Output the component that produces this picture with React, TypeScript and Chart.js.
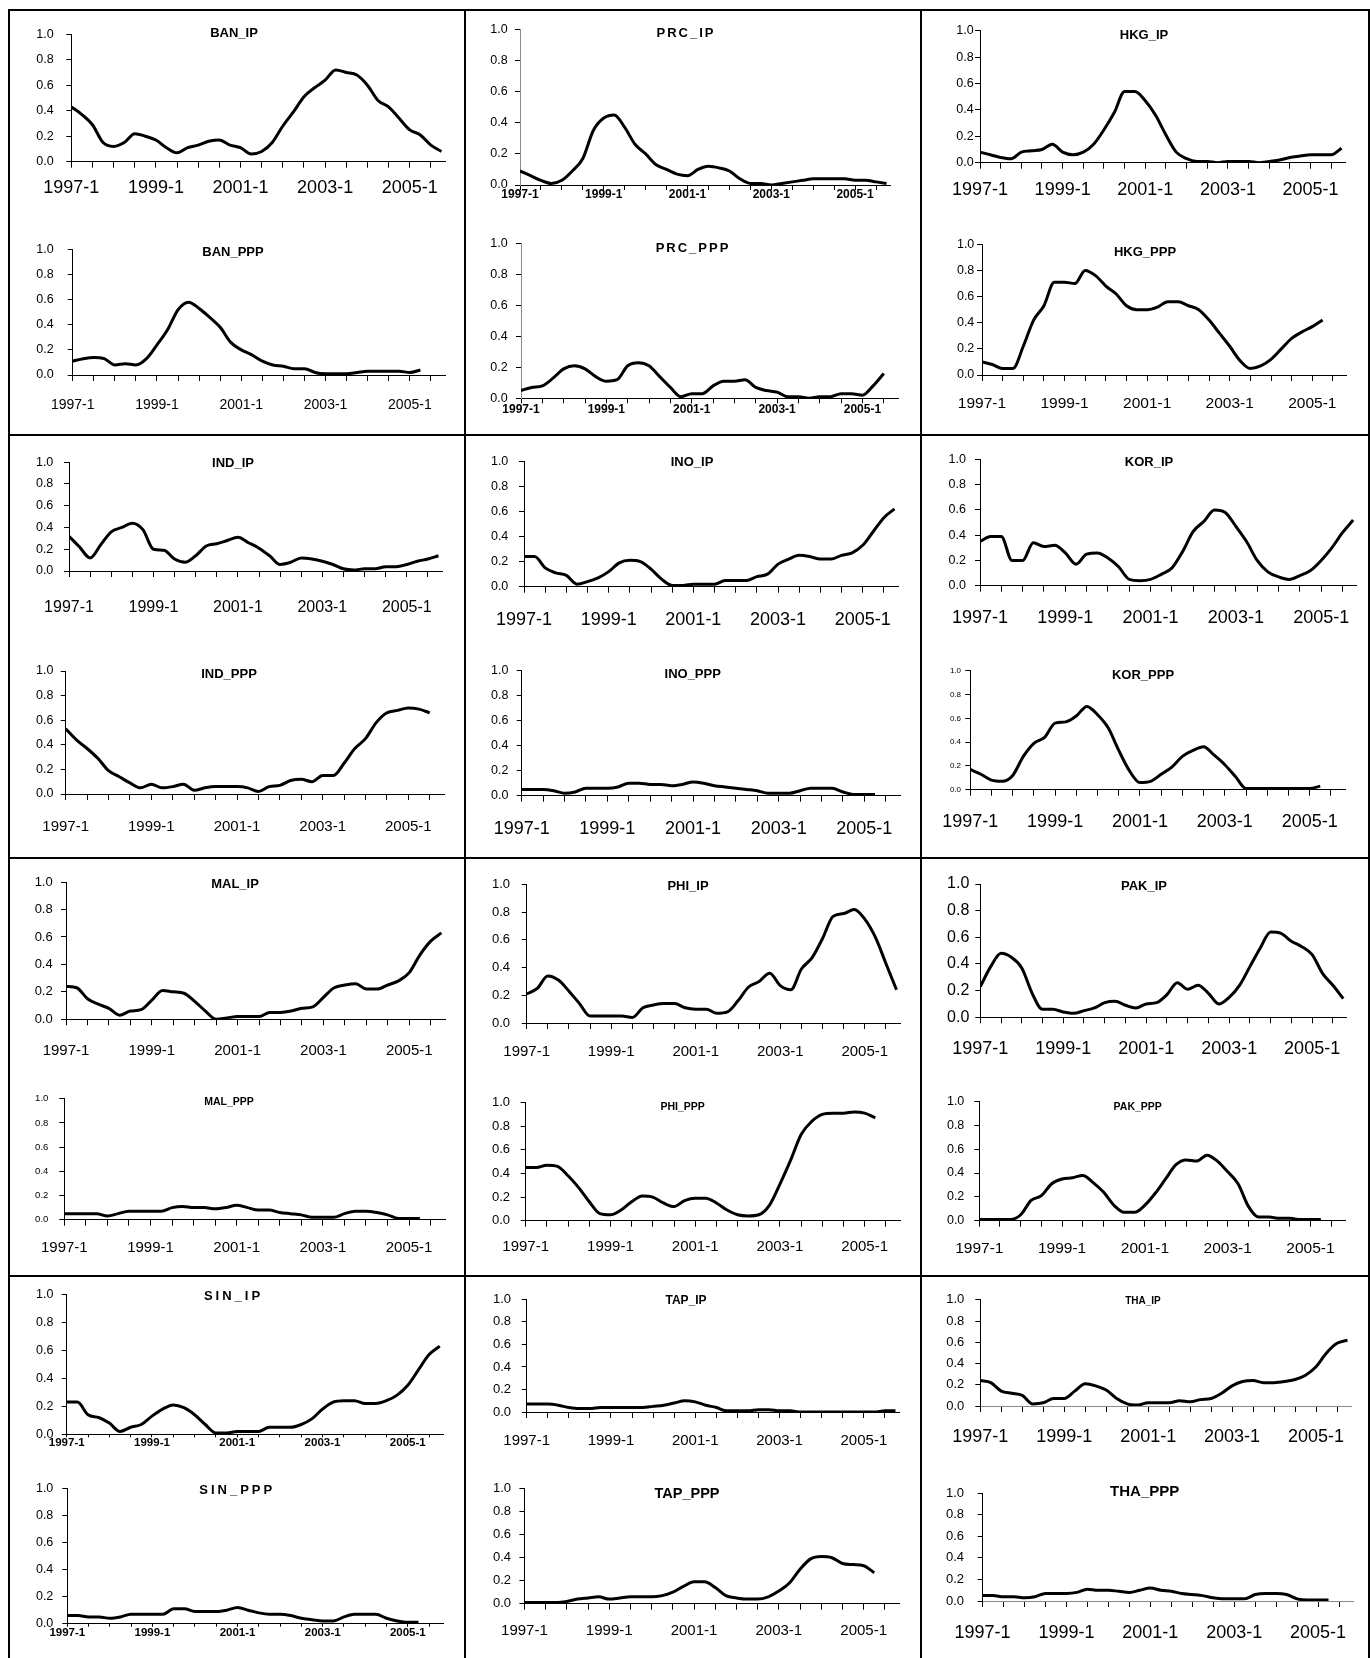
import React, { useEffect, useRef } from 'react';
import { Chart, registerables } from 'chart.js';

Chart.register(...registerables);

// ---------- shared axis definitions ----------
const MONTH_STEP = 3; // one value read every 3 months, starting 1997-1
const X_MAX = 106; // months shown on each x-axis
const X_TICK_STEP = 6; // tick mark every 6 months
const X_LABEL_MONTHS = [0, 24, 48, 72, 96];
const X_LABELS = ['1997-1', '1999-1', '2001-1', '2003-1', '2005-1'];
const Y_MIN = 0;
const Y_MAX = 1;
const Y_STEP = 0.2;

// ---------- series values (quarterly readings) ----------
const BAN_IP = [0.43, 0.37, 0.29, 0.15, 0.12, 0.15, 0.22, 0.20, 0.17, 0.11, 0.07, 0.11, 0.13, 0.16, 0.17, 0.13, 0.11, 0.06, 0.08, 0.15, 0.28, 0.39, 0.51, 0.58, 0.64, 0.72, 0.70, 0.68, 0.60, 0.48, 0.43, 0.34, 0.25, 0.21, 0.13, 0.08];
const BAN_PPP = [0.11, 0.13, 0.14, 0.13, 0.08, 0.09, 0.08, 0.13, 0.24, 0.36, 0.52, 0.58, 0.53, 0.46, 0.38, 0.26, 0.20, 0.16, 0.11, 0.08, 0.07, 0.05, 0.05, 0.02, 0.01, 0.01, 0.01, 0.02, 0.03, 0.03, 0.03, 0.03, 0.02, 0.04];
const PRC_IP = [0.09, 0.06, 0.03, 0.01, 0.03, 0.09, 0.17, 0.35, 0.43, 0.45, 0.37, 0.26, 0.20, 0.13, 0.10, 0.07, 0.06, 0.10, 0.12, 0.11, 0.09, 0.04, 0.01, 0.01, 0.00, 0.01, 0.02, 0.03, 0.04, 0.04, 0.04, 0.04, 0.03, 0.03, 0.02, 0.01];
const PRC_PPP = [0.05, 0.07, 0.08, 0.13, 0.19, 0.21, 0.19, 0.14, 0.11, 0.12, 0.21, 0.23, 0.21, 0.14, 0.07, 0.01, 0.03, 0.03, 0.08, 0.11, 0.11, 0.12, 0.07, 0.05, 0.04, 0.01, 0.01, 0.00, 0.01, 0.01, 0.03, 0.03, 0.02, 0.08, 0.16];
const HKG_IP = [0.08, 0.06, 0.04, 0.03, 0.08, 0.09, 0.10, 0.14, 0.08, 0.06, 0.08, 0.14, 0.25, 0.38, 0.54, 0.54, 0.47, 0.36, 0.21, 0.08, 0.03, 0.01, 0.01, 0.00, 0.01, 0.01, 0.01, 0.00, 0.01, 0.02, 0.04, 0.05, 0.06, 0.06, 0.06, 0.11];
const HKG_PPP = [0.10, 0.08, 0.05, 0.05, 0.22, 0.42, 0.53, 0.71, 0.71, 0.70, 0.80, 0.76, 0.68, 0.62, 0.53, 0.50, 0.50, 0.52, 0.56, 0.56, 0.53, 0.50, 0.42, 0.32, 0.22, 0.11, 0.05, 0.07, 0.12, 0.20, 0.28, 0.33, 0.37, 0.42];
const IND_IP = [0.32, 0.22, 0.12, 0.24, 0.36, 0.40, 0.44, 0.38, 0.20, 0.19, 0.11, 0.08, 0.14, 0.23, 0.25, 0.28, 0.31, 0.26, 0.21, 0.14, 0.06, 0.08, 0.12, 0.11, 0.09, 0.06, 0.02, 0.01, 0.02, 0.02, 0.04, 0.04, 0.06, 0.09, 0.11, 0.14];
const IND_PPP = [0.53, 0.44, 0.37, 0.29, 0.19, 0.14, 0.09, 0.05, 0.08, 0.05, 0.06, 0.08, 0.03, 0.05, 0.06, 0.06, 0.06, 0.05, 0.02, 0.06, 0.07, 0.11, 0.12, 0.10, 0.15, 0.15, 0.25, 0.37, 0.45, 0.58, 0.66, 0.68, 0.70, 0.69, 0.66];
const INO_IP = [0.24, 0.24, 0.15, 0.11, 0.09, 0.02, 0.04, 0.07, 0.12, 0.19, 0.21, 0.20, 0.14, 0.06, 0.01, 0.01, 0.02, 0.02, 0.02, 0.05, 0.05, 0.05, 0.08, 0.10, 0.18, 0.22, 0.25, 0.24, 0.22, 0.22, 0.25, 0.27, 0.33, 0.44, 0.55, 0.62];
const INO_PPP = [0.05, 0.05, 0.05, 0.04, 0.02, 0.03, 0.06, 0.06, 0.06, 0.07, 0.10, 0.10, 0.09, 0.09, 0.08, 0.09, 0.11, 0.10, 0.08, 0.07, 0.06, 0.05, 0.04, 0.02, 0.02, 0.02, 0.04, 0.06, 0.06, 0.06, 0.03, 0.01, 0.01, 0.01];
const KOR_IP = [0.35, 0.39, 0.39, 0.20, 0.20, 0.34, 0.31, 0.32, 0.26, 0.17, 0.25, 0.26, 0.22, 0.15, 0.05, 0.04, 0.05, 0.09, 0.14, 0.27, 0.43, 0.51, 0.60, 0.58, 0.47, 0.35, 0.20, 0.11, 0.07, 0.05, 0.08, 0.12, 0.20, 0.30, 0.42, 0.52];
const KOR_PPP = [0.17, 0.13, 0.08, 0.07, 0.12, 0.28, 0.39, 0.44, 0.56, 0.57, 0.62, 0.70, 0.63, 0.52, 0.33, 0.16, 0.06, 0.07, 0.13, 0.19, 0.28, 0.33, 0.36, 0.29, 0.21, 0.11, 0.01, 0.01, 0.01, 0.01, 0.01, 0.01, 0.01, 0.03];
const MAL_IP = [0.24, 0.23, 0.15, 0.11, 0.08, 0.03, 0.06, 0.07, 0.14, 0.21, 0.20, 0.19, 0.13, 0.06, 0.00, 0.01, 0.02, 0.02, 0.02, 0.05, 0.05, 0.06, 0.08, 0.09, 0.16, 0.23, 0.25, 0.26, 0.22, 0.22, 0.25, 0.28, 0.34, 0.47, 0.57, 0.63];
const MAL_PPP = [0.05, 0.05, 0.05, 0.05, 0.03, 0.05, 0.07, 0.07, 0.07, 0.07, 0.10, 0.11, 0.10, 0.10, 0.09, 0.10, 0.12, 0.10, 0.08, 0.08, 0.06, 0.05, 0.04, 0.02, 0.02, 0.02, 0.05, 0.07, 0.07, 0.06, 0.04, 0.01, 0.01, 0.01];
const PHI_IP = [0.21, 0.25, 0.34, 0.31, 0.23, 0.14, 0.05, 0.05, 0.05, 0.05, 0.04, 0.11, 0.13, 0.14, 0.14, 0.11, 0.10, 0.10, 0.07, 0.08, 0.16, 0.26, 0.30, 0.36, 0.27, 0.24, 0.39, 0.47, 0.61, 0.77, 0.79, 0.82, 0.75, 0.62, 0.43, 0.24];
const PHI_PPP = [0.45, 0.45, 0.47, 0.46, 0.38, 0.28, 0.16, 0.06, 0.05, 0.09, 0.16, 0.21, 0.20, 0.15, 0.12, 0.17, 0.19, 0.19, 0.15, 0.09, 0.05, 0.04, 0.05, 0.13, 0.31, 0.51, 0.73, 0.84, 0.90, 0.91, 0.91, 0.92, 0.91, 0.87];
const PAK_IP = [0.23, 0.38, 0.48, 0.45, 0.37, 0.18, 0.06, 0.06, 0.04, 0.03, 0.05, 0.07, 0.11, 0.12, 0.09, 0.07, 0.10, 0.11, 0.17, 0.26, 0.21, 0.24, 0.18, 0.10, 0.15, 0.24, 0.38, 0.52, 0.64, 0.63, 0.57, 0.53, 0.47, 0.33, 0.24, 0.14];
const PAK_PPP = [0.01, 0.01, 0.01, 0.01, 0.05, 0.17, 0.21, 0.31, 0.35, 0.36, 0.38, 0.32, 0.24, 0.13, 0.07, 0.07, 0.13, 0.23, 0.35, 0.47, 0.51, 0.50, 0.55, 0.50, 0.41, 0.31, 0.12, 0.03, 0.03, 0.02, 0.02, 0.01, 0.01, 0.01];
const SIN_IP = [0.23, 0.23, 0.14, 0.12, 0.08, 0.02, 0.05, 0.07, 0.13, 0.18, 0.21, 0.19, 0.14, 0.07, 0.01, 0.01, 0.02, 0.02, 0.02, 0.05, 0.05, 0.05, 0.07, 0.11, 0.18, 0.23, 0.24, 0.24, 0.22, 0.22, 0.24, 0.28, 0.35, 0.46, 0.57, 0.63];
const SIN_PPP = [0.06, 0.06, 0.05, 0.05, 0.04, 0.05, 0.07, 0.07, 0.07, 0.07, 0.11, 0.11, 0.09, 0.09, 0.09, 0.10, 0.12, 0.10, 0.08, 0.07, 0.07, 0.06, 0.04, 0.03, 0.02, 0.02, 0.05, 0.07, 0.07, 0.07, 0.04, 0.02, 0.01, 0.01];
const TAP_IP = [0.07, 0.07, 0.07, 0.06, 0.04, 0.03, 0.03, 0.04, 0.04, 0.04, 0.04, 0.04, 0.05, 0.06, 0.08, 0.10, 0.09, 0.06, 0.04, 0.01, 0.01, 0.01, 0.02, 0.02, 0.01, 0.01, 0.00, 0.00, 0.00, 0.00, 0.00, 0.00, 0.00, 0.00, 0.01, 0.01];
const TAP_PPP = [0.01, 0.01, 0.01, 0.01, 0.02, 0.04, 0.05, 0.06, 0.04, 0.05, 0.06, 0.06, 0.06, 0.07, 0.10, 0.15, 0.19, 0.19, 0.14, 0.07, 0.05, 0.04, 0.04, 0.06, 0.11, 0.18, 0.30, 0.39, 0.41, 0.40, 0.35, 0.34, 0.33, 0.27];
const THA_IP = [0.24, 0.22, 0.14, 0.12, 0.10, 0.02, 0.03, 0.07, 0.07, 0.14, 0.21, 0.19, 0.15, 0.07, 0.02, 0.01, 0.03, 0.03, 0.03, 0.05, 0.04, 0.06, 0.07, 0.12, 0.19, 0.23, 0.24, 0.22, 0.22, 0.23, 0.25, 0.29, 0.37, 0.50, 0.59, 0.62];
const THA_PPP = [0.05, 0.05, 0.04, 0.04, 0.03, 0.04, 0.07, 0.07, 0.07, 0.08, 0.11, 0.10, 0.10, 0.09, 0.08, 0.10, 0.12, 0.10, 0.09, 0.07, 0.06, 0.05, 0.03, 0.02, 0.02, 0.02, 0.06, 0.07, 0.07, 0.06, 0.02, 0.01, 0.01, 0.01];

const SERIES: Record<string, number[]> = {
  BAN_IP, BAN_PPP, PRC_IP, PRC_PPP, HKG_IP, HKG_PPP,
  IND_IP, IND_PPP, INO_IP, INO_PPP, KOR_IP, KOR_PPP,
  MAL_IP, MAL_PPP, PHI_IP, PHI_PPP, PAK_IP, PAK_PPP,
  SIN_IP, SIN_PPP, TAP_IP, TAP_PPP, THA_IP, THA_PPP,
};

// ---------- layout / style of each small chart (page pixels) ----------
type Spec = {
  k: string; L: number; R: number; T: number; B: number;
  xs: number; xn?: boolean; xb?: boolean; xy: number; tl: number;
  ys: number; yn?: boolean; yg: number;
  ts: number; tn?: boolean; tls?: number; tx: number; ty: number;
  yc?: string; xc?: string;
};

const LAYOUT: Spec[] = [
  { k: 'BAN_IP', L: 71.3, R: 445, T: 30.7, B: 161.7, xs: 18, xn: true, xy: 188, tl: 6, ys: 12.5, yg: 17.7, ts: 13, tx: 234, ty: 33 },
  { k: 'BAN_PPP', L: 72.7, R: 445, T: 244.3, B: 375, xs: 14, xn: true, xy: 405, tl: 6, ys: 12.5, yg: 19, ts: 13, tx: 233, ty: 252 },
  { k: 'PRC_IP', L: 520, R: 890, T: 29.3, B: 185, xs: 12, xb: true, xy: 195, tl: 5, ys: 12.5, yg: 12.3, ts: 13, tls: 2, tx: 685, ty: 33, yc: '#8a8a8a' },
  { k: 'PRC_PPP', L: 521, R: 898, T: 243.3, B: 398.3, xs: 12, xb: true, xy: 409.5, tl: 5, ys: 12.5, yg: 13.3, ts: 13, tls: 2, tx: 692, ty: 248, yc: '#8a8a8a' },
  { k: 'HKG_IP', L: 980, R: 1345, T: 30.7, B: 162.7, xs: 18, xn: true, xy: 190, tl: 6, ys: 12.5, yg: 6.3, ts: 13, tx: 1144, ty: 35 },
  { k: 'HKG_PPP', L: 982, R: 1346.7, T: 244.3, B: 375, xs: 15.5, xn: true, xy: 404, tl: 6, ys: 12.5, yg: 7.7, ts: 13, tx: 1145, ty: 252 },
  { k: 'IND_IP', L: 69, R: 442, T: 460, B: 571, xs: 16, xy: 607.7, tl: 6, ys: 12.5, yg: 15.7, ts: 13, tx: 233, ty: 463 },
  { k: 'IND_PPP', L: 65.7, R: 444, T: 671, B: 794, xs: 15, xy: 826.7, tl: 6, ys: 12.5, yg: 12.3, ts: 13, tx: 229, ty: 674 },
  { k: 'INO_IP', L: 524, R: 898, T: 459, B: 586.7, xs: 18, xn: true, xy: 620, tl: 6, ys: 12.5, yg: 15.7, ts: 13, tx: 692, ty: 462 },
  { k: 'INO_PPP', L: 521.7, R: 900, T: 670.7, B: 795.7, xs: 18, xn: true, xy: 829, tl: 6, ys: 12.5, yg: 13.3, ts: 13, tx: 692.7, ty: 674 },
  { k: 'KOR_IP', L: 980, R: 1356.7, T: 459.3, B: 585.7, xs: 18, xn: true, xy: 617.7, tl: 6, ys: 12.5, yg: 14, ts: 13, tx: 1149, ty: 462 },
  { k: 'KOR_PPP', L: 970.3, R: 1345, T: 670.7, B: 789.7, xs: 18, xn: true, xy: 821.7, tl: 6, ys: 8, yg: 9.3, ts: 13, tx: 1143, ty: 675 },
  { k: 'MAL_IP', L: 66, R: 445, T: 882, B: 1019.3, xs: 15, xy: 1050.7, tl: 6, ys: 13, yg: 13.3, ts: 13, tx: 235, ty: 884.7 },
  { k: 'MAL_PPP', L: 64.3, R: 445, T: 1098.7, B: 1219.7, xs: 15, xn: true, xy: 1248, tl: 6, ys: 9.5, yg: 16, ts: 10.5, tx: 229, ty: 1102.3 },
  { k: 'PHI_IP', L: 526.7, R: 900, T: 881.3, B: 1023, xs: 15, xn: true, xy: 1052, tl: 6, ys: 13, yg: 16.7, ts: 13, tx: 688, ty: 886 },
  { k: 'PHI_PPP', L: 525.7, R: 900, T: 1100.7, B: 1220.7, xs: 15, xn: true, xy: 1247.3, tl: 6, ys: 13, yg: 15.7, ts: 10.5, tx: 682.7, ty: 1107 },
  { k: 'PAK_IP', L: 980.3, R: 1346.7, T: 884, B: 1017.3, xs: 18, xn: true, xy: 1048.7, tl: 6, ys: 16, yg: 11, ts: 13, tx: 1144, ty: 886 },
  { k: 'PAK_PPP', L: 979.3, R: 1345, T: 1100.7, B: 1220.7, xs: 15.5, xn: true, xy: 1248.7, tl: 6, ys: 12.5, yg: 15, ts: 10.5, tx: 1137.7, ty: 1107 },
  { k: 'SIN_IP', L: 66.7, R: 443.3, T: 1294.3, B: 1434.3, xs: 11.5, xb: true, xy: 1442.5, tl: 3, ys: 12.5, yg: 13.3, ts: 13, tls: 3, tx: 232, ty: 1296 },
  { k: 'SIN_PPP', L: 67.3, R: 443.3, T: 1488, B: 1623.7, xs: 11.5, xb: true, xy: 1632.5, tl: 3, ys: 12.5, yg: 14, ts: 13, tls: 3, tx: 235.7, ty: 1490.3 },
  { k: 'TAP_IP', L: 526.7, R: 899, T: 1297, B: 1412, xs: 15, xn: true, xy: 1441.3, tl: 6, ys: 13, yn: true, yg: 15.6, ts: 12, tn: true, tx: 686, ty: 1301 },
  { k: 'TAP_PPP', L: 524.4, R: 899, T: 1488.7, B: 1603.7, xs: 15, xn: true, xy: 1631, tl: 6, ys: 13, yn: true, yg: 13.3, ts: 14.5, tn: true, tx: 687, ty: 1493.7 },
  { k: 'THA_IP', L: 980.3, R: 1351, T: 1297, B: 1406, xs: 18, xn: true, xy: 1437, tl: 6, ys: 13, yn: true, yg: 16, ts: 10, tn: true, tx: 1143, ty: 1301, xc: '#8a8a8a' },
  { k: 'THA_PPP', L: 982.6, R: 1353, T: 1488.7, B: 1601, xs: 18, xn: true, xy: 1633, tl: 6, ys: 13, yn: true, yg: 18.5, ts: 15, tn: true, tx: 1144.7, ty: 1492, xc: '#8a8a8a' },
];

const SANS = "'Liberation Sans', Arial, Helvetica, sans-serif";
const NARROW = "'Liberation Sans Narrow', 'Arial Narrow', 'Liberation Sans', sans-serif";

const YW0 = 54;
const PT0 = 16;
const XH0 = 54;
const PR0 = 8;
const Y_TICK_LEN = 5;

function MiniChart({ spec }: { spec: Spec }) {
  const ref = useRef<HTMLCanvasElement | null>(null);
  const cl = Math.floor(spec.L) - YW0;
  const ct = Math.floor(spec.T) - PT0;
  const w = Math.ceil(spec.R - cl + PR0);
  const h = Math.ceil(spec.B - ct + XH0);

  useEffect(() => {
    if (!ref.current) return;
    const yw = spec.L - cl;
    const pt = spec.T - ct;
    const pr = w - (spec.R - cl);
    const xh = h - (spec.B - ct);
    const values = SERIES[spec.k];
    const points = values.map((v, i) => ({ x: i * MONTH_STEP, y: v }));
    const xPad = spec.xy - spec.B - spec.tl - 0.6 * spec.xs;
    const yPad = spec.yg - Y_TICK_LEN;
    const xColor = spec.xc || '#000';
    const yColor = spec.yc || '#000';

    const titlePlugin = {
      id: 'panelTitle',
      afterDraw(chart: any) {
        const ctx = chart.ctx as CanvasRenderingContext2D;
        ctx.save();
        ctx.fillStyle = '#000';
        ctx.textAlign = 'center';
        ctx.textBaseline = 'middle';
        ctx.font = `bold ${spec.ts}px ${spec.tn ? NARROW : SANS}`;
        (ctx as any).letterSpacing = `${spec.tls || 0}px`;
        ctx.fillText(spec.k, spec.tx - cl + (spec.tls || 0) / 2, spec.ty - ct);
        ctx.restore();
      },
    };

    const chart = new Chart(ref.current, {
      type: 'line',
      data: {
        datasets: [
          {
            data: points,
            borderColor: '#000',
            borderWidth: 3,
            pointRadius: 0,
            fill: false,
            cubicInterpolationMode: 'monotone',
          },
        ],
      },
      options: {
        animation: false,
        responsive: false,
        maintainAspectRatio: false,
        events: [],
        layout: { padding: { top: pt, right: pr, left: 0, bottom: 0 } },
        plugins: {
          legend: { display: false },
          tooltip: { enabled: false },
          title: { display: false },
        },
        scales: {
          x: {
            type: 'linear',
            position: 'bottom',
            min: 0,
            max: X_MAX,
            afterFit: (s: any) => {
              s.height = xh;
            },
            border: { display: true, color: xColor, width: 1 },
            grid: {
              display: true,
              drawOnChartArea: false,
              drawTicks: true,
              tickLength: spec.tl,
              color: '#000',
              lineWidth: 1,
            },
            ticks: {
              stepSize: X_TICK_STEP,
              includeBounds: false,
              autoSkip: false,
              maxRotation: 0,
              minRotation: 0,
              padding: xPad,
              color: '#000',
              font: {
                family: spec.xn ? NARROW : SANS,
                size: spec.xs,
                weight: spec.xb ? 'bold' : 'normal',
                lineHeight: 1.2,
              },
              callback: (value: any) => {
                const idx = X_LABEL_MONTHS.indexOf(Number(value));
                return idx >= 0 ? X_LABELS[idx] : '';
              },
            },
          },
          y: {
            type: 'linear',
            min: Y_MIN,
            max: Y_MAX,
            afterFit: (s: any) => {
              s.width = yw;
            },
            border: { display: true, color: yColor, width: 1 },
            grid: {
              display: true,
              drawOnChartArea: false,
              drawTicks: true,
              tickLength: Y_TICK_LEN,
              color: '#000',
              lineWidth: 1,
            },
            ticks: {
              stepSize: Y_STEP,
              padding: yPad,
              color: '#000',
              font: {
                family: spec.yn ? NARROW : SANS,
                size: spec.ys,
                lineHeight: 1.2,
              },
              callback: (value: any) => Number(value).toFixed(1),
            },
          },
        },
      } as any,
      plugins: [titlePlugin],
    });
    return () => chart.destroy();
  }, []);

  return (
    <canvas
      ref={ref}
      width={w}
      height={h}
      style={{ position: 'absolute', left: cl, top: ct, width: w, height: h }}
    />
  );
}

const lineStyle = (left: number, top: number, width: number, height: number): React.CSSProperties => ({
  position: 'absolute',
  left,
  top,
  width,
  height,
  background: '#000',
});

export default function App() {
  return (
    <div
      style={{
        position: 'fixed',
        left: 0,
        top: 0,
        width: 1370,
        height: 1658,
        overflow: 'hidden',
        background: '#fff',
      }}
    >
      {/* table frame */}
      <div style={lineStyle(8, 9, 1362, 2)} />
      <div style={lineStyle(8, 9, 2, 1660)} />
      <div style={lineStyle(1368, 9, 2, 1660)} />
      <div style={lineStyle(464, 9, 2, 1660)} />
      <div style={lineStyle(920, 9, 2, 1660)} />
      <div style={lineStyle(8, 434, 1362, 2)} />
      <div style={lineStyle(8, 857, 1362, 2)} />
      <div style={lineStyle(8, 1275, 1362, 2)} />
      {LAYOUT.map((s) => (
        <MiniChart key={s.k} spec={s} />
      ))}
    </div>
  );
}
